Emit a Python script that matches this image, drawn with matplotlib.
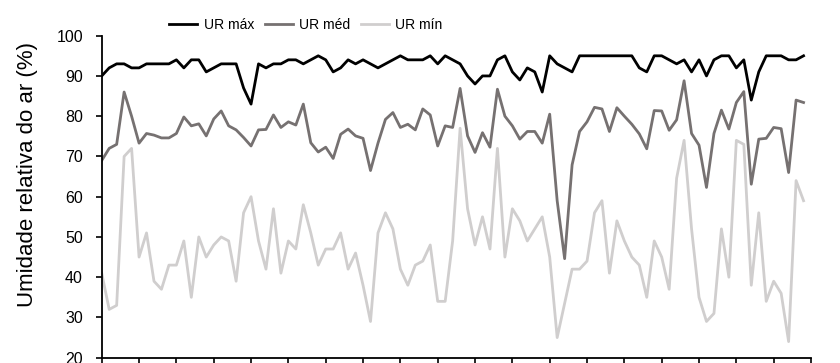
import matplotlib.pyplot as plt

plt.rcParams['font.family'] = ['Liberation Sans', 'DejaVu Sans']

# Daily relative humidity readings (%)
ur_max = [90, 92, 93, 93, 92, 92, 93, 93, 93, 93, 94, 92, 94, 94, 91, 92,
          93, 93, 93, 87, 83, 93, 92, 93, 93, 94, 94, 93, 94, 95, 94,
          91, 92, 94, 93, 94, 93, 92, 93, 94, 95, 94, 94, 94, 95, 93,
          95, 94, 93, 90, 88, 90, 90, 94, 95, 91, 89, 92, 91, 86, 95, 93,
          92, 91, 95, 95, 95, 95, 95, 95, 95, 95, 92, 91, 95, 95, 94,
          93, 94, 91, 94, 90, 94, 95, 95, 92, 94, 84, 91, 95, 95, 95, 94, 94, 95]

ur_med = [69, 72, 73, 86, 80, 73.3, 75.7, 75.3, 74.6, 74.6, 75.7, 79.8, 77.6, 78.1, 75.1, 79.3,
          81.3, 77.6, 76.6, 74.7, 72.6, 76.6, 76.7, 80.3, 77.2, 78.6, 77.8, 83, 73.4, 71.1, 72.3,
          69.5, 75.5, 76.8, 75.1, 74.5, 66.5, 73.3, 79.2, 80.9, 77.2, 78, 76.6, 81.8, 80.3, 72.6,
          77.6, 77.2, 86.9, 75.1, 71, 75.9, 72.3, 86.7, 80, 77.6, 74.3, 76.2, 76.2, 73.3, 80.5, 59,
          44.6, 67.9, 76.2, 78.6, 82.2, 81.8, 76.2, 82.1, 80, 78, 75.6, 71.9, 81.4, 81.3, 76.5,
          79.1, 88.8, 75.7, 72.8, 62.3, 75.7, 81.5, 76.8, 83.4, 86.1, 63.1, 74.3, 74.5, 77.2, 76.9, 66, 84, 83.4]

ur_min = [41, 32, 33, 70, 72, 45, 51, 39, 37, 43, 43, 49, 35, 50, 45, 48,
          50, 49, 39, 56, 60, 49, 42, 57, 41, 49, 47, 58, 51, 43, 47,
          47, 51, 42, 46, 38, 29, 51, 56, 52, 42, 38, 43, 44, 48, 34,
          34, 49, 77, 57, 48, 55, 47, 72, 45, 57, 54, 49, 52, 55, 45, 25,
          33.5, 42, 42, 44, 56, 59, 41, 54, 49, 45, 43, 35, 49, 45, 37,
          64.6, 74, 52, 35, 29, 31, 52, 40, 74, 73, 38, 56, 34, 39, 36, 24, 64, 59]

days = list(range(len(ur_max)))

fig = plt.figure(figsize=(8.4, 3.63), dpi=100)
ax = fig.add_axes([0.1211, 0.0146, 0.8444, 0.8871])

ax.plot(days, ur_max, label='UR máx', color='#000000', linewidth=2.0)
ax.plot(days, ur_med, label='UR méd', color='#767171', linewidth=2.0)
ax.plot(days, ur_min, label='UR mín', color='#d0cece', linewidth=2.0)

ax.set_xlim(0, 95)
ax.set_ylim(20, 100)
ax.set_xticks(range(0, 96, 5))
ax.set_xticklabels([])
ax.set_yticks(range(20, 101, 10))
ax.tick_params(axis='y', labelsize=11.5, length=4.5, width=1.2, direction='out', pad=9)
ax.tick_params(axis='x', length=5, width=1.2, direction='out')

for side in ['top', 'right']:
    ax.spines[side].set_visible(False)
for side in ['left', 'bottom']:
    ax.spines[side].set_linewidth(1.3)

# Axis title sits a little above the middle of the plot height
ax.set_ylabel('Umidade relativa do ar (%)', fontsize=16)
ax.yaxis.set_label_coords(-0.09, 0.57)

# Legend sits on one row above the plot
fig.legend(loc='center', bbox_to_anchor=(306 / 840, 1 - 25 / 363), ncol=3,
           frameon=False, fontsize=10, handlelength=2.0, handletextpad=0.45,
           columnspacing=0.8)

plt.savefig('out.png', dpi=100)
plt.close()
